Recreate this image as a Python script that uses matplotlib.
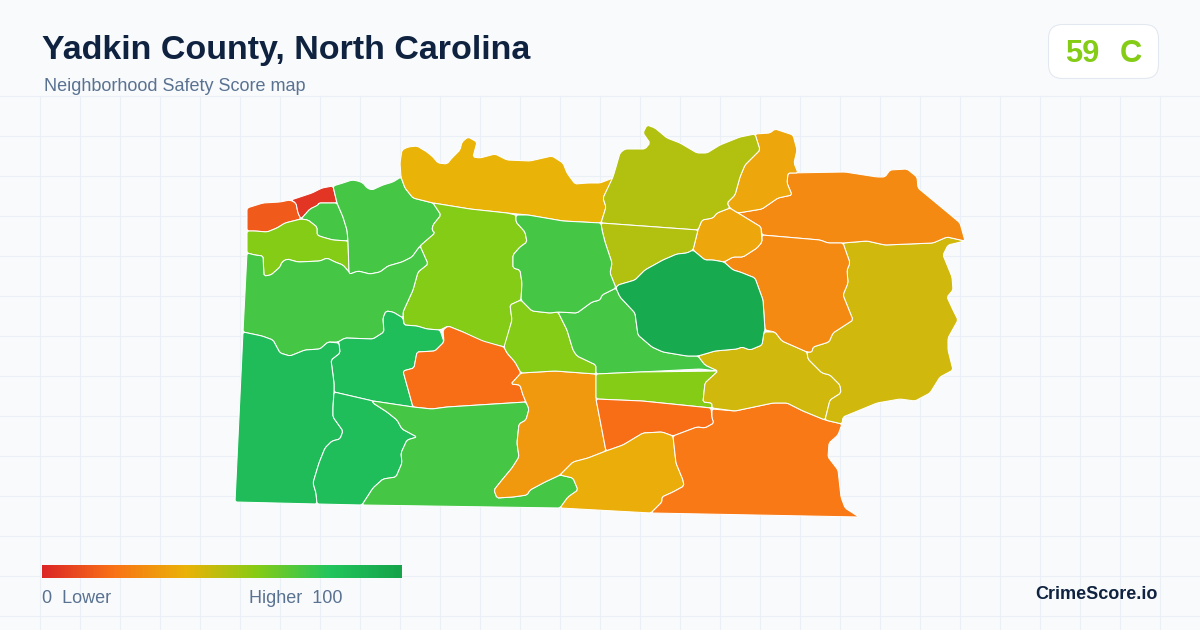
import numpy as np
import matplotlib
matplotlib.use("Agg")
import matplotlib.pyplot as plt
from matplotlib.colors import LinearSegmentedColormap
from matplotlib.patches import FancyBboxPatch, Polygon

# legend colour stops, score / 100
stop_positions = [0.0, 0.2, 0.4, 0.6, 0.8, 1.0]
stop_colors = ["#dc2626", "#f97316", "#eab308", "#84cc16", "#22c55e", "#16a34a"]

title_text = "Yadkin County, North Carolina"
subtitle_text = "Neighborhood Safety Score map"
overall_score = "59"
overall_grade = "C"

tract_scores = [
    14, 4, 73, 60, 73, 40, 60, 73, 84, 19, 85, 84, 73, 32, 60, 73, 60, 19, 38, 22,
    45, 45, 27, 27, 36, 36, 51, 51, 96, 73,
]
tract_outlines = [
    [(247,208),(263,203),(280,202),(290,200),(296,203),(298,213),(301,219),(293,221),(285,223),(277,228),(267,232),(255,231),(247,231)],
    [(291,200),(312,193),(322,188),(333,186),(337,203),(319,203),(317,206),(310,209),(301,219),(298,213),(296,203)],
    [(301,219),(310,209),(318,205),(319,203),(337,203),(343,217),(347,230),(348,241),(333,240),(322,237),(317,235),(317,227),(308,220)],
    [(247,231),(255,231),(267,232),(277,228),(285,223),(293,221),(301,219),(308,220),(317,227),(317,235),(322,237),(333,240),(348,241),(349,272),(343,265),(335,262),(327,258),(320,261),(298,262),(287,259),(282,262),(280,267),(271,275),(264,276),(263,256),(255,255),(247,253)],
    [(333,186),(343,183),(352,180),(358,181),(363,183),(367,188),(372,190),(383,185),(393,182),(401,177),(405,188),(413,198),(433,203),(441,215),(433,225),(432,230),(435,233),(420,246),(412,257),(402,262),(388,266),(380,272),(370,274),(358,271),(350,274),(349,272),(348,241),(347,230),(343,217),(337,203)],
    [(401,177),(400,163),(402,150),(408,147),(417,146),(427,152),(433,157),(438,163),(447,164),(452,158),(460,150),(462,142),(468,137),(477,142),(473,157),(480,158),(495,154),(507,160),(530,161),(552,156),(563,163),(567,173),(575,184),(588,183),(600,183),(613,178),(603,198),(606,207),(601,223),(563,221),(528,215),(507,213),(470,209),(433,203),(413,198),(405,188)],
    [(433,203),(470,209),(507,213),(516,215),(516,222),(525,232),(527,242),(520,247),(513,255),(513,268),(520,270),(522,283),(521,300),(510,305),(512,320),(505,347),(483,342),(463,332),(448,326),(440,330),(427,329),(417,326),(404,325),(403,312),(413,290),(418,272),(428,264),(420,246),(435,233),(432,230),(433,225),(441,215)],
    [(247,253),(243,332),(262,336),(273,340),(280,353),(290,356),(305,350),(320,349),(328,342),(338,342),(345,338),(373,339),(384,332),(383,318),(386,311),(393,312),(403,318),(403,312),(413,290),(418,272),(428,264),(420,246),(412,257),(402,262),(388,266),(380,272),(370,274),(358,271),(350,274),(349,272),(343,265),(335,262),(327,258),(320,261),(298,262),(287,259),(282,262),(280,267),(271,275),(264,276),(263,256),(255,255)],
    [(338,342),(345,338),(373,339),(384,332),(383,318),(386,311),(393,312),(403,318),(404,325),(417,326),(427,329),(440,330),(444,342),(435,351),(417,352),(414,368),(403,371),(413,407),(373,401),(334,392),(334,383),(331,360),(340,353),(339,343)],
    [(443,330),(448,326),(463,332),(483,341),(504,347),(507,353),(515,362),(521,373),(511,384),(520,385),(523,395),(526,402),(447,407),(432,409),(413,407),(403,371),(414,368),(417,352),(435,351),(444,342)],
    [(243,332),(235,502),(317,504),(316,493),(313,483),(319,463),(325,448),(332,441),(340,439),(343,431),(333,417),(333,407),(334,392),(334,383),(331,360),(340,353),(339,343),(328,342),(320,349),(305,350),(290,356),(280,353),(273,340),(262,336)],
    [(334,392),(373,401),(373,403),(387,412),(397,420),(402,429),(417,437),(407,440),(401,453),(402,463),(396,477),(383,479),(373,488),(362,505),(317,504),(316,493),(313,483),(319,463),(325,448),(332,441),(340,439),(343,431),(333,417),(333,407)],
    [(373,401),(413,407),(432,409),(447,407),(526,402),(529,409),(526,420),(519,424),(517,443),(519,457),(512,468),(502,480),(494,490),(497,498),(513,497),(527,495),(530,490),(545,482),(560,475),(573,478),(578,490),(568,497),(560,508),(362,505),(373,488),(383,479),(396,477),(402,463),(401,453),(407,440),(417,437),(402,429),(397,420),(387,412),(373,403)],
    [(521,373),(555,371),(596,374),(596,399),(606,451),(588,458),(573,462),(560,475),(545,482),(530,490),(527,495),(513,497),(497,498),(494,490),(502,480),(512,468),(519,457),(517,443),(519,424),(526,420),(529,409),(526,402),(523,395),(520,385),(511,384)],
    [(521,300),(532,311),(550,313),(558,312),(567,330),(573,350),(577,356),(596,365),(596,374),(555,371),(521,373),(515,362),(507,353),(504,347),(512,320),(510,305)],
    [(558,312),(577,313),(592,302),(600,300),(602,295),(616,288),(620,297),(635,313),(638,335),(652,347),(663,352),(687,356),(698,356),(705,365),(718,371),(700,369),(640,372),(596,374),(596,365),(577,356),(573,350),(567,330)],
    [(596,374),(640,372),(718,371),(705,383),(703,402),(712,403),(712,408),(642,401),(596,399)],
    [(596,399),(642,401),(711,408),(712,418),(714,423),(705,428),(697,427),(673,436),(662,432),(643,433),(623,445),(606,451)],
    [(606,451),(623,445),(643,433),(662,432),(673,436),(676,463),(683,480),(684,486),(673,492),(662,497),(662,502),(651,513),(560,508),(568,497),(578,490),(573,478),(560,475),(573,462),(588,458)],
    [(712,409),(735,411),(773,403),(787,403),(803,411),(825,420),(842,424),(838,435),(829,443),(828,457),(838,470),(841,497),(845,508),(859,517),(651,513),(662,502),(662,497),(673,492),(684,486),(683,480),(676,463),(673,436),(697,427),(705,428),(714,423),(712,418)],
    [(698,356),(715,351),(737,349),(742,347),(750,350),(762,345),(764,332),(775,332),(782,341),(807,352),(808,359),(822,373),(830,375),(840,385),(841,393),(830,400),(825,420),(803,411),(787,403),(773,403),(735,411),(712,408),(712,403),(703,402),(705,383),(718,371),(705,365)],
    [(843,243),(850,263),(847,270),(848,283),(843,295),(853,320),(833,333),(829,342),(813,347),(812,352),(807,352),(808,359),(822,373),(830,375),(840,385),(841,393),(830,400),(825,420),(842,424),(843,417),(877,403),(900,399),(915,401),(930,393),(940,377),(953,370),(948,350),(948,338),(958,320),(953,310),(947,297),(953,290),(952,277),(943,255),(948,245),(965,241),(947,237),(933,243),(885,245),(867,241)],
    [(738,213),(762,209),(778,198),(792,195),(787,183),(788,173),(845,172),(877,177),(885,177),(890,170),(907,169),(917,177),(918,188),(953,217),(960,223),(965,241),(947,237),(933,243),(885,245),(867,241),(843,243),(828,243),(820,240),(762,235),(761,227)],
    [(762,235),(820,240),(828,243),(843,243),(850,263),(847,270),(848,283),(843,295),(853,320),(833,333),(829,342),(813,347),(812,352),(807,352),(782,341),(775,332),(765,330),(763,300),(755,278),(740,272),(733,270),(724,262),(733,257),(743,257),(757,248),(762,242)],
    [(738,213),(761,227),(762,242),(757,248),(743,257),(733,257),(724,262),(713,260),(705,260),(693,250),(698,230),(702,220),(713,218),(717,213),(730,208)],
    [(755,134),(770,133),(775,129),(793,135),(797,150),(794,163),(798,173),(788,173),(787,183),(792,195),(778,198),(762,209),(738,213),(730,208),(727,203),(735,195),(740,177),(745,165),(760,150)],
    [(613,177),(616,167),(620,153),(625,149),(645,149),(650,143),(643,133),(647,125),(655,128),(667,138),(680,143),(697,153),(707,153),(720,145),(740,137),(755,134),(760,150),(745,165),(740,177),(735,195),(727,203),(730,208),(717,213),(713,218),(702,220),(698,230),(601,223),(606,207),(603,198)],
    [(601,223),(698,230),(693,250),(687,253),(677,254),(663,260),(645,270),(635,280),(618,285),(616,288),(610,273),(612,263),(605,242),(602,230)],
    [(616,288),(618,285),(635,280),(645,270),(663,260),(677,254),(687,253),(693,250),(705,260),(713,260),(724,262),(733,270),(740,272),(755,278),(763,300),(765,330),(764,332),(762,345),(750,350),(742,347),(737,349),(715,351),(698,356),(687,356),(663,352),(652,347),(638,335),(635,313),(620,297)],
    [(516,215),(528,215),(563,221),(601,223),(602,230),(605,242),(612,263),(610,273),(616,288),(602,295),(600,300),(592,302),(577,313),(558,312),(550,313),(532,311),(521,300),(522,283),(520,270),(513,268),(513,255),(520,247),(527,242),(525,232),(516,222)],
]


def soften(outline, max_cut):
    # cut each corner a little so the borders read as curves
    pts = np.array(outline, dtype=float)
    out = []
    for i, p in enumerate(pts):
        for q in (pts[i - 1], pts[(i + 1) % len(pts)]):
            seg = q - p
            length = np.hypot(*seg)
            out.append(p + seg * min(max_cut / length, 0.25))
    return np.array(out)


score_cmap = LinearSegmentedColormap.from_list("score", list(zip(stop_positions, stop_colors)))

plt.rcParams["font.family"] = ["Liberation Sans", "DejaVu Sans"]

fig = plt.figure(figsize=(12, 6.3), dpi=100, facecolor="#f8fafc")
ax = fig.add_axes([0, 0, 1, 1])
ax.set_facecolor("#f8fafc")
ax.axis("off")

# background grid, only below the header
for gx in range(40, 1200, 40):
    ax.plot([gx, gx], [96, 630], color="#eaf0f6", lw=0.75, zorder=1)
for gy in range(96, 630, 40):
    ax.plot([0, 1200], [gy, gy], color="#eaf0f6", lw=0.75, zorder=1)

# map
for score, outline in zip(tract_scores, tract_outlines):
    shape = soften(outline, 1.5)
    ax.add_patch(Polygon(shape, closed=True, facecolor=score_cmap(score / 100),
                         edgecolor="white", lw=0.75, joinstyle="round", zorder=2))

# header
ax.text(42, 59, title_text, fontsize=24.5, fontweight="bold", color="#0f2340", va="baseline", zorder=3)
ax.text(44, 91, subtitle_text, fontsize=12.96, color="#5a7291", va="baseline", zorder=3)

# score badge
ax.add_patch(FancyBboxPatch((1048.5, 24.5), 110, 54, boxstyle="round,pad=0,rounding_size=14",
                            facecolor="white", edgecolor="#e2e8f0", lw=0.75, zorder=3))
ax.text(1065.5, 62, overall_score, fontsize=22.2, fontweight="bold", color="#84cc16", va="baseline", zorder=4)
ax.text(1119.5, 62, overall_grade, fontsize=22.2, fontweight="bold", color="#84cc16", va="baseline", zorder=4)

# legend bar
gradient = np.linspace(0, 1, 360).reshape(1, -1)
ax.imshow(gradient, cmap=score_cmap, extent=(42, 402, 578, 565), aspect="auto", zorder=3)
ax.text(42, 603, "0  Lower", fontsize=12.96, color="#5a7291", va="baseline", zorder=3)
ax.text(249, 603, "Higher  100", fontsize=12.96, color="#5a7291", va="baseline", zorder=3)

ax.text(1158, 599, "CrimeScore.io", fontsize=13, fontweight="bold", color="#0f2340",
        ha="right", va="baseline", zorder=3)

ax.set_xlim(0, 1200)
ax.set_ylim(630, 0)

fig.savefig("out.png", dpi=100, facecolor=fig.get_facecolor())
plt.close(fig)
